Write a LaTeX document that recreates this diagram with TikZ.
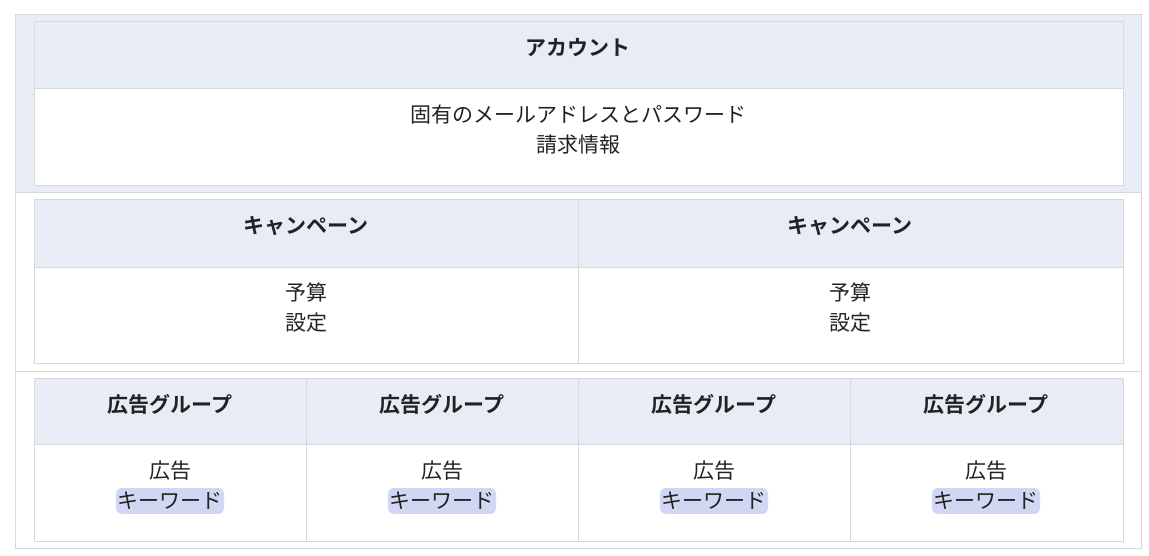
\documentclass[tikz,border=0pt]{standalone}
\usepackage{fontspec}
\setmainfont{Noto Sans CJK JP}[BoldFont={Noto Sans CJK JP Bold}]
\definecolor{hdr}{RGB}{232,236,245}
\definecolor{rule}{RGB}{214,216,220}
\definecolor{kwbg}{RGB}{208,215,243}
\definecolor{txt}{RGB}{34,34,34}

\begin{document}
\begin{tikzpicture}[x=1pt,y=-1pt,
  head/.style={font=\bfseries\fontsize{21}{24}\selectfont, text=txt},
  body/.style={font=\fontsize{21}{30}\selectfont, text=txt, align=center},
  kw/.style={fill=kwbg, rounded corners=5pt, inner xsep=1.5pt, inner ysep=4pt}]
\useasboundingbox (0,0) rectangle (1149,555);
% outer frame
\fill [hdr] (15,14) rectangle (1141,192);
\draw [rule] (15,14) rectangle (1141,548);
\draw [rule] (15,192) -- (1141,192);
\draw [rule] (15,371) -- (1141,371);

% account
\draw [rule, fill=hdr] (34,21) rectangle (1123,88);
\draw [rule, fill=white] (34,88) rectangle (1123,185);
\node [head] (acc) at (578,48) {アカウント};
\node [body] (accinfo) at (578,130) {固有のメールアドレスとパスワード\\請求情報};

% campaigns
\draw [rule, fill=hdr] (34,199) rectangle (1123,267);
\draw [rule, fill=white] (34,267) rectangle (1123,363);
\draw [rule] (578,199) -- (578,363);
\foreach \i/\cx in {1/306,2/850} {
  \node [head] (camp\i) at (\cx,226) {キャンペーン};
  \node [body] (campinfo\i) at (\cx,308) {予算\\設定};
}

% ad groups
\draw [rule, fill=hdr] (34,378) rectangle (1123,444);
\draw [rule, fill=white] (34,444) rectangle (1123,541);
\draw [rule] (306,378) -- (306,541);
\draw [rule] (578,378) -- (578,541);
\draw [rule] (850,378) -- (850,541);
\foreach \i/\cx in {1/170,2/442,3/714,4/986} {
  \node [head] (grp\i) at (\cx,404) {広告グループ};
  \node [body] (ad\i) at (\cx,471) {広告};
  \node [body, kw] (kw\i) at (\cx,501) {キーワード};
}

\end{tikzpicture}
\end{document}
